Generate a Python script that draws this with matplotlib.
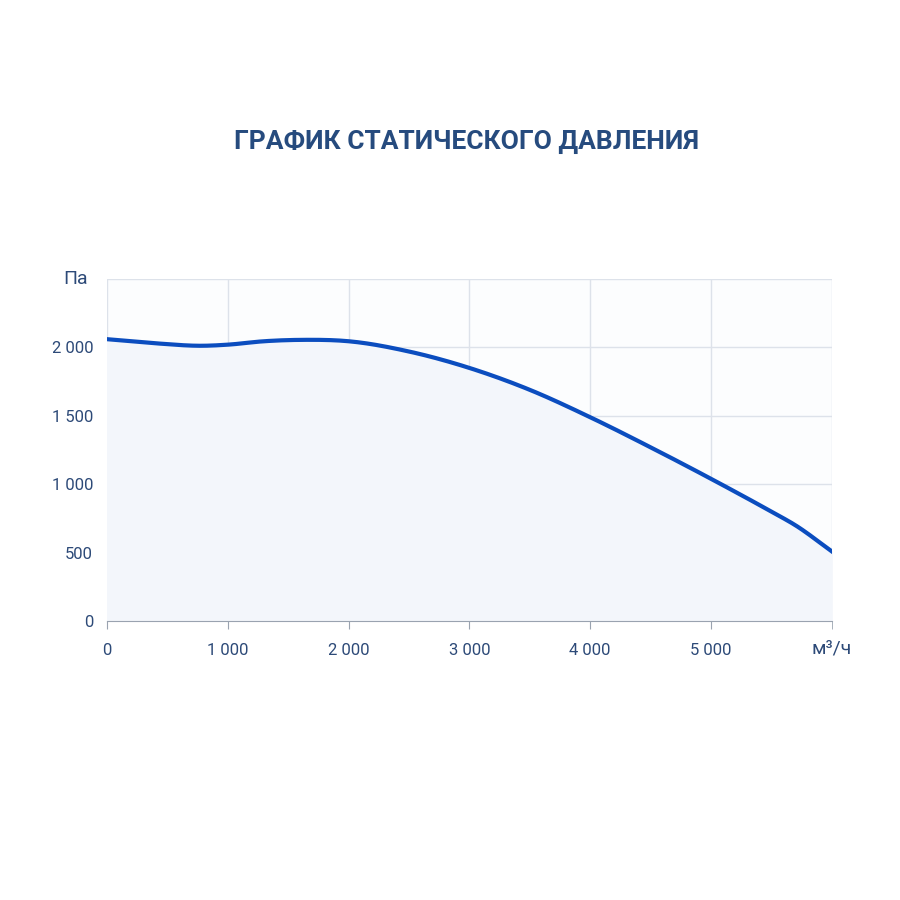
import numpy as np
import matplotlib
matplotlib.use("Agg")
import matplotlib.pyplot as plt

# values
flow = [0, 400, 800, 1000, 1300, 1600, 2000, 2500, 3000, 3500, 4000, 4500, 5000, 5500, 5700, 6000]
pressure = [2060, 2030, 2012, 2020, 2045, 2055, 2045, 1970, 1850, 1690, 1490, 1270, 1040, 800, 700, 510]
x_ticks = [0, 1000, 2000, 3000, 4000, 5000]
y_ticks = [0, 500, 1000, 1500, 2000]

plt.rcParams["font.family"] = ["Roboto", "DejaVu Sans"]


def hermite(x, y, xq):
    # smooth cubic through the read points
    x = np.asarray(x, float); y = np.asarray(y, float)
    m = np.gradient(y, x)
    out = np.empty_like(xq)
    for k, q in enumerate(xq):
        i = min(np.searchsorted(x, q, side="right") - 1, len(x) - 2)
        h = x[i + 1] - x[i]
        t = (q - x[i]) / h
        h00 = 2*t**3 - 3*t**2 + 1; h10 = t**3 - 2*t**2 + t
        h01 = -2*t**3 + 3*t**2; h11 = t**3 - t**2
        out[k] = h00*y[i] + h10*h*m[i] + h01*y[i+1] + h11*h*m[i+1]
    return out


xs = np.linspace(flow[0], flow[-1], 400)
ys = hermite(flow, pressure, xs)

fig = plt.figure(figsize=(9, 9), dpi=100)
ax = fig.add_axes([0.119, 0.31, 0.805, 0.38])
line_c = "#0b4dbf"
text_c = "#2d4a78"
ax.set_facecolor("#fcfdfe")
ax.fill_between(xs, ys, 0, color="#f3f6fb", zorder=1)
ax.plot(xs, ys, color=line_c, lw=3, zorder=3)
ax.set_xlim(0, 6000)
ax.set_ylim(0, 2500)
ax.set_xticks(x_ticks)
ax.set_yticks(y_ticks)
fmt = lambda v: f"{v:,}".replace(",", " ")
ax.set_xticklabels([fmt(v) for v in x_ticks])
ax.set_yticklabels([fmt(v) for v in y_ticks])
ax.set_xticks([6000], minor=True)
ax.set_yticks([2500], minor=True)
ax.tick_params(colors=text_c, labelsize=12, length=0, pad=10)
ax.tick_params(axis="y", which="minor", length=0)
ax.tick_params(axis="x", which="both", length=6, color="#9aa3b0")
ax.grid(True, which="both", color="#dde2ea", lw=1)
for s in ax.spines.values():
    s.set_visible(False)
ax.spines["bottom"].set_visible(True)
ax.spines["bottom"].set_color("#9aa3b0")
ax.text(-0.06, 1.0, "Па", transform=ax.transAxes, fontsize=14, color=text_c, va="center")
ax.text(1.0, -0.08, "м³/ч", transform=ax.transAxes, fontsize=14, color=text_c, va="center", ha="center")
ax.set_axisbelow(True)
fig.text(0.518, 0.842, "ГРАФИК СТАТИЧЕСКОГО ДАВЛЕНИЯ", ha="center", va="center",
         fontsize=19, fontweight="bold", color="#264b7e")
fig.savefig("out.png", dpi=100)
